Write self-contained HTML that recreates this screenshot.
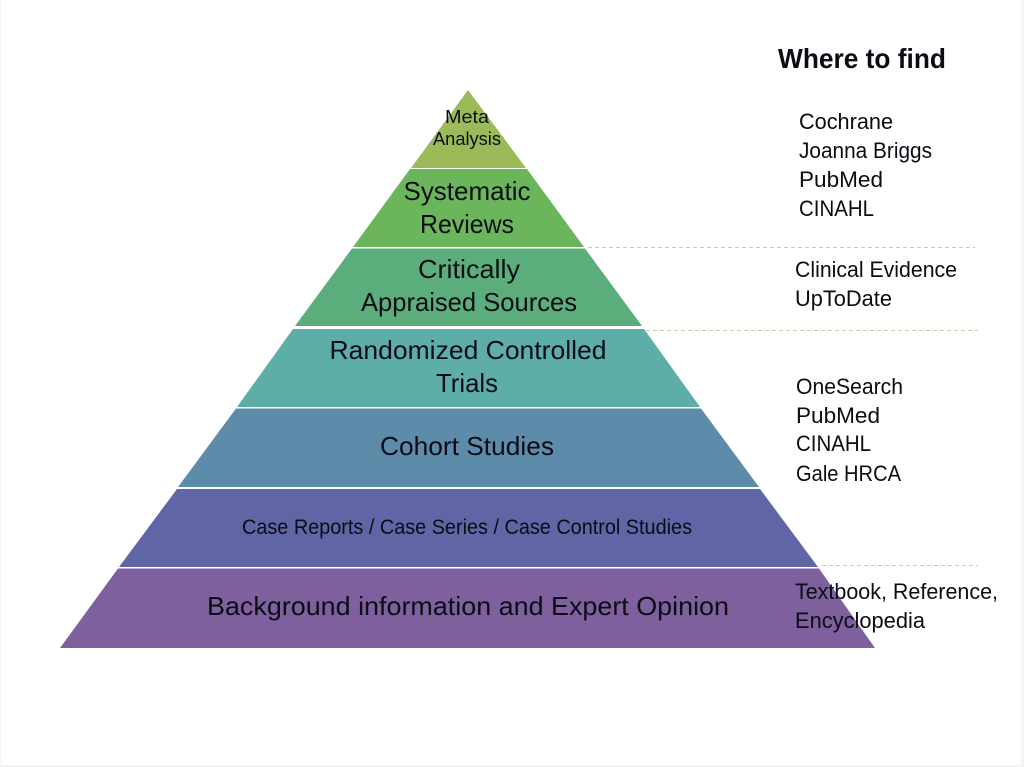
<!DOCTYPE html>
<html><head><meta charset="utf-8"><style>
html,body{margin:0;padding:0;background:#fff;width:1024px;height:767px;overflow:hidden}
svg{display:block}
text{font-family:"Liberation Sans",sans-serif;fill:#0c0c14}
</style></head><body>
<svg width="1024" height="767" viewBox="0 0 1024 767" xmlns="http://www.w3.org/2000/svg">
<rect width="1024" height="767" fill="#fff"/>
<rect x="1021" y="0" width="3" height="767" fill="#f3f3f3"/>
<rect x="0" y="0" width="1" height="767" fill="#f3f3f3"/>
<rect x="0" y="765" width="1024" height="2" fill="#f3f3f3"/>
<polygon points="468,90 526,168 411,168" fill="#9bbb59"/>
<polygon points="410,169 527,169 584,247 353,247" fill="#6bb65b"/>
<polygon points="352,248.500 585,248.500 642,326 295,326" fill="#5bae7b"/>
<polygon points="293,329 644,329 700,407 237,407" fill="#5caea6"/>
<polygon points="236,408.500 701,408.500 759,487 178,487" fill="#5d8cab"/>
<polygon points="177,489 760,489 818,567 119,567" fill="#5f65a5"/>
<polygon points="118,568.500 819,568.500 875,648 60,648" fill="#7f609f"/>
<g stroke="#cfc9a4" stroke-width="1" stroke-dasharray="4 3" fill="none">
<line x1="588" y1="247.500" x2="975" y2="247.500"/>
<line x1="646" y1="330.500" x2="978" y2="330.500"/>
<line x1="822" y1="565.500" x2="978" y2="565.500"/>
</g>
<g text-anchor="middle">
<text x="467" y="123" font-size="18" textLength="44" lengthAdjust="spacingAndGlyphs">Meta</text>
<text x="467" y="145" font-size="18" textLength="68" lengthAdjust="spacingAndGlyphs">Analysis</text>
<text x="467" y="200" font-size="26" textLength="127" lengthAdjust="spacingAndGlyphs">Systematic</text>
<text x="467" y="233" font-size="26" textLength="94" lengthAdjust="spacingAndGlyphs">Reviews</text>
<text x="469" y="278" font-size="26" textLength="102" lengthAdjust="spacingAndGlyphs">Critically</text>
<text x="469" y="311" font-size="26" textLength="216" lengthAdjust="spacingAndGlyphs">Appraised Sources</text>
<text x="468" y="359" font-size="26" textLength="277" lengthAdjust="spacingAndGlyphs">Randomized Controlled</text>
<text x="467" y="392" font-size="26" textLength="62" lengthAdjust="spacingAndGlyphs">Trials</text>
<text x="467" y="455" font-size="26" textLength="174" lengthAdjust="spacingAndGlyphs">Cohort Studies</text>
<text x="467" y="534" font-size="21" textLength="450" lengthAdjust="spacingAndGlyphs">Case Reports / Case Series / Case Control Studies</text>
<text x="468" y="615" font-size="26" textLength="522" lengthAdjust="spacingAndGlyphs">Background information and Expert Opinion</text>
</g>
<text x="778" y="68" font-size="28" font-weight="bold" textLength="168" lengthAdjust="spacingAndGlyphs">Where to find</text>
<g font-size="22">
<text x="799" y="129" textLength="94" lengthAdjust="spacingAndGlyphs">Cochrane</text>
<text x="799" y="158" textLength="133" lengthAdjust="spacingAndGlyphs">Joanna Briggs</text>
<text x="799" y="187" textLength="84" lengthAdjust="spacingAndGlyphs">PubMed</text>
<text x="799" y="216" textLength="75" lengthAdjust="spacingAndGlyphs">CINAHL</text>
<text x="795" y="277" textLength="162" lengthAdjust="spacingAndGlyphs">Clinical Evidence</text>
<text x="795" y="306" textLength="97" lengthAdjust="spacingAndGlyphs">UpToDate</text>
<text x="796" y="394" textLength="107" lengthAdjust="spacingAndGlyphs">OneSearch</text>
<text x="796" y="423" textLength="84" lengthAdjust="spacingAndGlyphs">PubMed</text>
<text x="796" y="451" textLength="75" lengthAdjust="spacingAndGlyphs">CINAHL</text>
<text x="796" y="481" textLength="105" lengthAdjust="spacingAndGlyphs">Gale HRCA</text>
<text x="795" y="599" textLength="203" lengthAdjust="spacingAndGlyphs">Textbook, Reference,</text>
<text x="795" y="628" textLength="130" lengthAdjust="spacingAndGlyphs">Encyclopedia</text>
</g>
</svg>
</body></html>
